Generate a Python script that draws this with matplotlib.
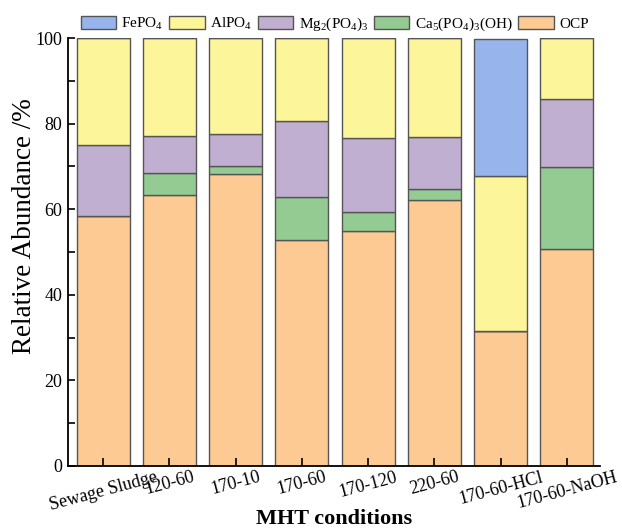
import numpy as np
import matplotlib.pyplot as plt

plt.rcParams['font.family'] = ['Liberation Serif', 'DejaVu Serif']
plt.rcParams['mathtext.fontset'] = 'custom'
plt.rcParams['mathtext.rm'] = 'Liberation Serif'
plt.rcParams['mathtext.it'] = 'Liberation Serif:italic'
plt.rcParams['mathtext.bf'] = 'Liberation Serif:bold'

# 样品条件
conditions = ["Sewage Sludge", "120-60", "170-10", "170-60", "170-120",
              "220-60", "170-60-HCl", "170-60-NaOH"]

# 各物相相对丰度 /%
ocp = [58.5, 63.3, 68.2, 52.8, 54.8, 62.1, 31.5, 50.8]
ca5 = [0.0, 5.2, 1.8, 10.0, 4.5, 2.7, 0.0, 19.0]
mg2 = [16.5, 8.5, 7.5, 17.9, 17.3, 12.1, 0.0, 16.0]
alpo4 = [25.0, 23.0, 22.5, 19.3, 23.4, 23.1, 36.2, 14.2]
fepo4 = [0.0, 0.0, 0.0, 0.0, 0.0, 0.0, 32.0, 0.0]

series = [
    ("OCP", ocp, "#fdca93"),
    ("Ca$_5$(PO$_4$)$_3$(OH)", ca5, "#93cb93"),
    ("Mg$_2$(PO$_4$)$_3$", mg2, "#c0afd1"),
    ("AlPO$_4$", alpo4, "#fdf59a"),
    ("FePO$_4$", fepo4, "#97b5ec"),
]

fig = plt.figure(figsize=(6.22, 5.30), dpi=100)
ax = fig.add_axes([0.1093, 0.1208, 0.8553, 0.8075])

x = np.arange(len(conditions))
bottom = np.zeros(len(conditions))
handles = {}
for name, vals, col in series:
    vals = np.array(vals)
    b = ax.bar(x, vals, 0.8, bottom=bottom, color=col, edgecolor="#555555",
               linewidth=1.0, label=name)
    handles[name] = b
    bottom += vals

# 图例顺序: Fe, Al, Mg, Ca, OCP
order = ["FePO$_4$", "AlPO$_4$", "Mg$_2$(PO$_4$)$_3$", "Ca$_5$(PO$_4$)$_3$(OH)", "OCP"]
fig.legend([handles[k] for k in order], order, loc="center",
           bbox_to_anchor=(0.538, 0.954), ncol=5, frameon=False, fontsize=11,
           handlelength=2.3, handleheight=1.0, columnspacing=0.4,
           handletextpad=0.35, borderpad=0.0)

ax.set_xlim(-0.53, 7.5)
ax.set_ylim(0, 100)
ax.set_yticks(np.arange(0, 101, 20))
ax.set_yticks(np.arange(10, 100, 20), minor=True)
ax.set_xticks(x)
ax.set_xticklabels(conditions, rotation=15, ha="center", fontsize=13)
ax.tick_params(axis="y", which="both", direction="in", length=5, width=1.2,
               labelsize=13, pad=4)
ax.tick_params(axis="x", direction="in", length=6, width=1.2, pad=2)

ax.spines["top"].set_visible(False)
ax.spines["right"].set_visible(False)
ax.spines["left"].set_linewidth(1.3)
ax.spines["bottom"].set_linewidth(1.3)

ax.set_ylabel("Relative Abundance /%", fontsize=19.5)
ax.yaxis.set_label_coords(-0.058, 0.561)
ax.set_xlabel("MHT conditions", fontsize=16, fontweight="bold")
ax.xaxis.set_label_coords(0.5, -0.100)

fig.savefig("out.png", dpi=100)
